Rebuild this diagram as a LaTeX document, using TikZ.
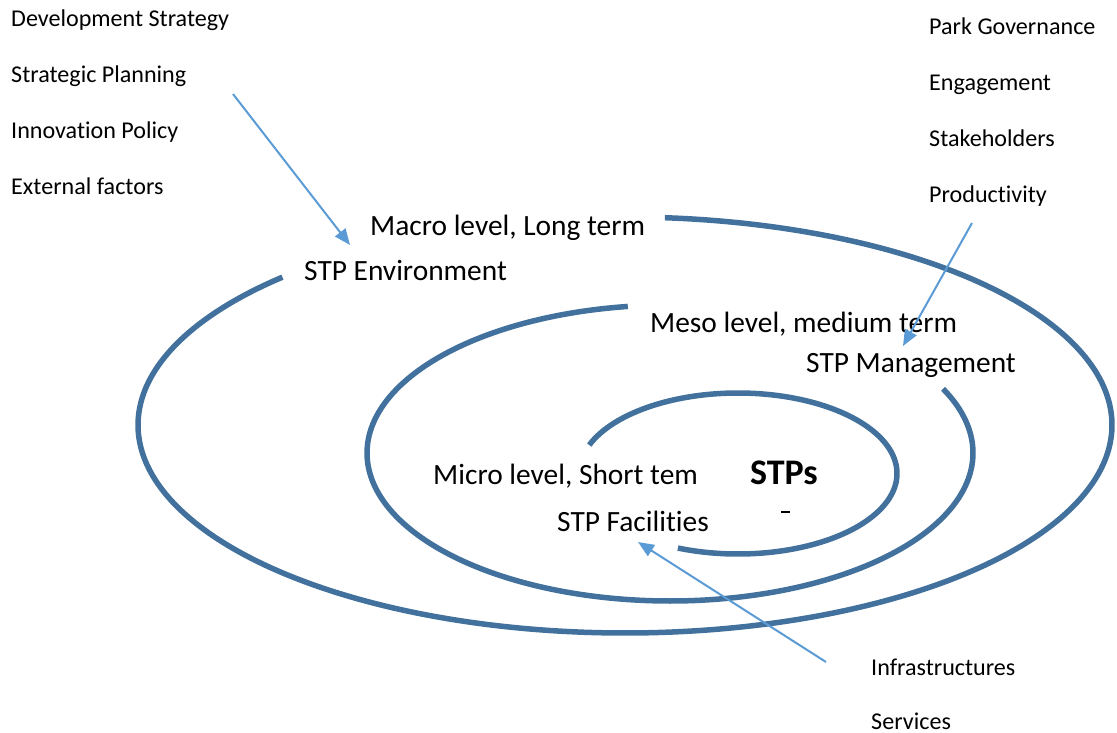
\documentclass[tikz,border=0pt]{standalone}
\usepackage{fontspec}
\setmainfont{Carlito}[Ligatures=NoCommon]
\usetikzlibrary{arrows.meta}
\definecolor{spiralblue}{HTML}{41719C}
\definecolor{arrowblue}{HTML}{5B9BD5}
\tikzset{
  small/.style={anchor=base west, inner sep=0pt, font=\fontsize{24.1}{28}\selectfont},
  big/.style={anchor=base west, inner sep=0pt, font=\fontsize{29.4}{35}\selectfont},
  spiral/.style={draw=spiralblue, line width=5.5pt, smooth},
  pointer/.style={draw=arrowblue, line width=2pt, -{Triangle[length=16pt,width=13pt]}},
}
\begin{document}
\begin{tikzpicture}[x=1pt,y=-1pt]
\useasboundingbox (0,0) rectangle (1117,733);
% spiral
\draw[spiral] plot[domain=-85.3:225.3, samples=200] ({625+487*cos(\x)},{425+208*sin(\x)});
\draw[spiral] plot[domain=262:-25.7, samples=200] ({670+303*cos(\x)},{453+148*sin(\x)});
\draw[spiral] plot[domain=200.7:472.2, samples=200] ({738+159*cos(\x)},{473.5+80.5*sin(\x)});
% stray mark
\coordinate (m1) at (781,512);
\coordinate (m2) at (790,512);
\draw[line width=1.5pt] (m1) -- (m2);
% left list
\node[small] (ds) at (11,27) {Development Strategy};
\node[small] (sp) at (11,83) {Strategic Planning};
\node[small] (ip) at (11,139) {Innovation Policy};
\node[small] (ef) at (11,195) {External factors};
% right list
\node[small] (pg) at (929,35) {Park Governance};
\node[small] (en) at (929,91) {Engagement};
\node[small] (sh) at (929,147) {Stakeholders};
\node[small] (pr) at (929,203) {Productivity};
% bottom list
\node[small] (inf) at (871,675) {Infrastructures};
\node[small] (ser) at (871,729) {Services};
% level labels
\node[big] (macro) at (370,235) {Macro level, Long term};
\node[big] (env) at (304,280) {STP Environment};
\node[big] (meso) at (650,332) {Meso level, medium term};
\node[big] (mgmt) at (806,372) {STP Management};
\node[big] (micro) at (433,484) {Micro level, Short tem};
\node[big] (fac) at (557,531) {STP Facilities};
\node[anchor=base west, inner sep=0pt, font=\fontsize{36}{42}\selectfont\bfseries] (stps) at (750,484) {STPs};
% arrows
\coordinate (a1s) at (233,94);
\coordinate (a1e) at (350,245);
\coordinate (a2s) at (972,223);
\coordinate (a2e) at (903,346);
\coordinate (a3s) at (826,662);
\coordinate (a3e) at (638,542);
\draw[pointer] (a1s) -- (a1e);
\draw[pointer] (a2s) -- (a2e);
\draw[pointer] (a3s) -- (a3e);
\end{tikzpicture}
\end{document}
